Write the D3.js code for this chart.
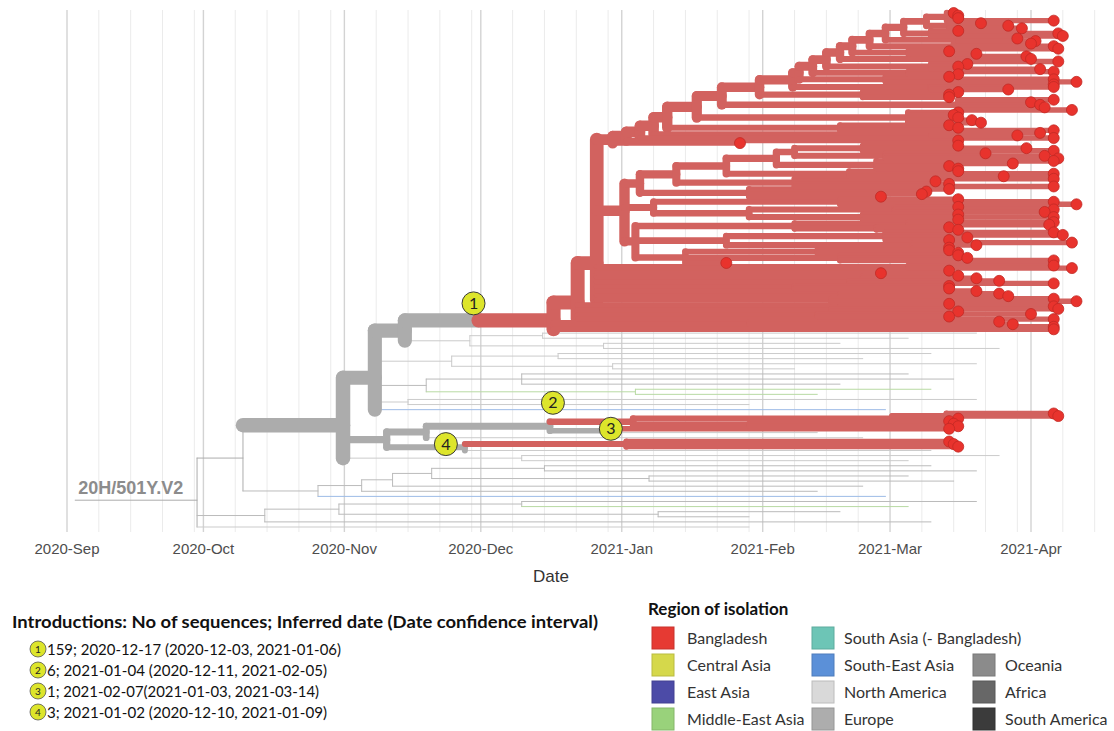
<!DOCTYPE html>
<html><head><meta charset="utf-8">
<script src="https://cdn.jsdelivr.net/npm/d3@7/dist/d3.min.js"></script>
<style>body{margin:0;background:#fff}svg{display:block}</style>
</head><body>
<svg id="chart" width="1114" height="731"></svg>
<script>
// ================= DATA =================
// Node dates are days after 2020-09-01; optional letters = region code; "#k" = introduction k.
const originUTC = Date.UTC(2020, 8, 1);
const axisStart = "2020-09-01", axisEnd = "2021-04-01", gridEnd = "2021-04-15";
const tickLabels = ["2020-Sep","2020-Oct","2020-Nov","2020-Dec","2021-Jan","2021-Feb","2021-Mar","2021-Apr"];
const gridDaysOfMonth = [1, 8, 15, 22, 29];

// --- Introduction 1 clade (Bangladesh) ---
const ladderATop = "(195,196,196,217)193.5";
const ladderASteps = [ // innermost first: [step node date, sister clade]
  [189,"(201,207,210)194"],[184,"(196,218,219)190"],[180,"(209,213)196"],[176.5,"(212,217,218)195"],
  [172.7,"(194,200)185"],[170,"(211,212,218)196"],[167,"(198,196,214)190"],[164,"(217,196)185"],
  [161,"(194,217,222)180"],[159.6,"(217,217,207)190"],[152.3,"(196,194,194)175"],
  [144,"(217,212,214,215,221)196"],[138.5,"(196,195,196,199,201)185"],[132,"(194,196,217)170"],
  [129,"(214,209)190"],[126,"217"],[123,"196"],[120,"148"]
];
const ladderB1Top = "(196,211,217)175";
const ladderB1Steps = [
  [160,"(202,215,218)180"],[156,"(217,208,194,196)178"],[145,"(196,217,206)172"],
  [134,"(217,191,194,217)160"],[126,"(194,189,188,179)150"]
];
const cladeB2 = "((196,217,222)170,((196,217,215)182,(196,217,196)175)150)129";
const cladeB3 = "(((217,216)185,(194,196)178)160,((217,219,198,194)180,(221,200,194)186)145,((194,196)165,(196,198,217)170,145)136)125";
const cladesC3low = ["(217,221)185","194","179","(196,200)175","(205,217)172","(194,194)160","200","(205,207)170","(217,222)168"];
const cladesC2low = ["(194,217)170","(218,196)168","(212,194)165","217"];
const cladesC1low = ["(205,208)150","217","217"];
const nodeDates = {B0:122.6, C3:116.5, C2:112.3, C1:107, I1:90.5, G1:74.3, G2:67.7, G3:60.7, G0:38.7, R0:28.6, root:1.8,
                   P1:70.3, P2:79, P3:106.2};

// --- Introductions 2-4 and global context ---
const cladeI2 = "(((217,218,196)193.4,194)181.5,(195,196)150)124.5b#2";
const cladeP3b = "(194b#3,165n)119.6";
const cladeI4 = "(194,195,196)123b#4";
const cladeP4 = "(" + cladeI4 + ",190n)87.5";
const ctxG1 = "((200,185)104.6,(170,205)118)88.6n";
const ctxG2a = "((190,175)108,(200,160)120)84.6n";
const ctxG2b = "((185,195,170)100,(190,165)125m)79e";
const ctxG2c = "(200,150)75n";
const ctxG2d = "180s";
const ctxP2 = "175n";
const ctxG3 = "(205,185)100n";
const ctxG0b = "(((((190,200)105,(185,195)128)80.2,175)71.6,165)64.8,180s)55.2e";
const ctxR0b = "(((200,185m)100,(170,150)130)59.8,190)43.5e";
const ctxR0 = "150n";
const cladeLabel = "20H/501Y.V2";

// --- Legends ---
const introNumbers = ["1","2","3","4"];
const introTexts = ["159; 2020-12-17 (2020-12-03, 2021-01-06)","6; 2021-01-04 (2020-12-11, 2021-02-05)",
                    "1; 2021-02-07(2021-01-03, 2021-03-14)","3; 2021-01-02 (2020-12-10, 2021-01-09)"];
const introTitle = "Introductions: No of sequences; Inferred date (Date confidence interval)";
const legendTitle = "Region of isolation";
const regionLabels = ["Bangladesh","Central Asia","East Asia","Middle-East Asia","South Asia (- Bangladesh)",
                      "South-East Asia","North America","Europe","Oceania","Africa","South America"];
const regionColors = ["#e63a33","#d5d84b","#4c4ba7","#99d27b","#6dc5b6","#5b90d8","#d9d9d9","#adadad","#8b8b8b","#676767","#3b3b3b"];
const regionCells = [[0,0],[0,1],[0,2],[0,3],[1,0],[1,1],[1,2],[1,3],[2,1],[2,2],[2,3]];
const branchColors = {b:"#d2625f", a:"#acacac", e:"#bbbbbb", n:"#cbcbcb", m:"#b8daa3", s:"#9dbbe6"};

// ================= BUILD TREE =================
function ladder(top, steps){ let s = top; for (const [d, sis] of steps) s = `(${s},${sis})${d}`; return s; }
const cladeA = ladder(ladderATop, ladderASteps);
const cladeB1 = ladder(ladderB1Top, ladderB1Steps);
const D = nodeDates;
const B0 = `(${cladeB1},${cladeB2},${cladeB3})${D.B0}`;
const C3 = `(${[cladeA, B0, ...cladesC3low].join(",")})${D.C3}`;
const C2 = `(${[C3, ...cladesC2low].join(",")})${D.C2}`;
const C1 = `(${[C2, ...cladesC1low].join(",")})${D.C1}b#1`;
const I1 = `(${C1})${D.I1}`;
const G1 = `(${I1},${ctxG1})${D.G1}`;
const G2 = `(${G1},${ctxG2a},${ctxG2b},${ctxG2c},${ctxG2d})${D.G2}`;
const P3 = `(${cladeI2},${cladeP3b})${D.P3}`;
const P2 = `(${P3},${ctxP2})${D.P2}`;
const P1 = `(${P2},${cladeP4})${D.P1}`;
const G3 = `(${G2},${P1},${ctxG3})${D.G3}`;
const G0 = `(${G3},${ctxG0b})${D.G0}`;
const R0 = `(${G0},${ctxR0b},${ctxR0})${D.R0}`;
const treeNewick = `(${R0})${D.root}a`;

function parseNewick(str){
  const s = str.replace(/\s+/g,""); let i = 0;
  function node(){
    const n = {children:[]};
    if (s[i] === "("){ i++; n.children.push(node()); while (s[i] === ","){ i++; n.children.push(node()); } i++; }
    const m = /^([\d.]+)([a-z]*)(?:#(\d+))?/.exec(s.slice(i));
    n.day = +m[1]; n.reg = m[2] || null; n.intro = m[3] || null; i += m[0].length;
    return n;
  }
  return node();
}

// ================= DRAW =================
const svg = d3.select("#chart");
const utc = s => { const [y,m,d] = s.split("-").map(Number); return new Date(Date.UTC(y,m-1,d)); };
const x = d3.scaleUtc().domain([utc(axisStart), utc(axisEnd)]).range([67, 1031]);
const dayToDate = d => new Date(originUTC + d*864e5);

// grid
const gridTop = 10, gridBottom = 532;
const gridDates = [];
d3.utcMonth.range(utc("2020-09-01"), utc("2021-05-01")).forEach(m => {
  gridDaysOfMonth.forEach(dd => {
    const dt = new Date(Date.UTC(m.getUTCFullYear(), m.getUTCMonth(), dd));
    if (dt.getUTCMonth() === m.getUTCMonth() && dt <= utc(gridEnd)) gridDates.push(dt);
  });
});
svg.append("g").selectAll("line").data(gridDates).join("line")
  .attr("x1", d => x(d)).attr("x2", d => x(d)).attr("y1", gridTop).attr("y2", gridBottom)
  .attr("stroke", d => d.getUTCDate() === 1 ? "#d3d3d3" : "#ebebeb")
  .attr("stroke-width", d => d.getUTCDate() === 1 ? 1.4 : 1);

// axis labels
const months = d3.utcMonth.range(utc(axisStart), d3.utcDay.offset(utc(axisEnd),1));
svg.append("g").selectAll("text").data(months).join("text")
  .attr("x", d => x(d)).attr("y", 554).attr("text-anchor","middle")
  .attr("font-family","Liberation Sans, Arial, sans-serif").attr("font-size",15).attr("fill","#4d4d4d")
  .text((d,i) => tickLabels[i]);
svg.append("text").attr("x",551).attr("y",582).attr("text-anchor","middle")
  .attr("font-family","Liberation Sans, Arial, sans-serif").attr("font-size",17).attr("fill","#333").text("Date");

// tree layout
const root = d3.hierarchy(parseNewick(treeNewick), d => d.children.length ? d.children : null);
root.eachBefore(n => { n.reg = n.data.reg || (n.parent ? n.parent.reg : "a"); });
root.eachAfter(n => { n.bd = n.children ? d3.sum(n.children, c => c.bd) : (n.reg === "b" ? 1 : 0); });
let mrca = root;
for (;;) { const c = (mrca.children || []).find(k => k.bd === root.bd); if (!c) break; mrca = c; }
const thickSet = new Set(mrca.descendants());
const wScale = d3.scaleSqrt().domain([1, root.bd]).range([5.4, 14.5]);
const widthOf = n => (thickSet.has(n) && n.bd > 0) ? wScale(n.bd) : 1;

const leaves = root.leaves();
let pos = 0, prevW = null;
leaves.forEach(l => { const w = l.reg === "b" ? 1 : 2; if (prevW !== null) pos += (prevW + w)/2; l.pos = pos; prevW = w; });
const y = d3.scaleLinear().domain([0, pos]).range([13, 527]);
root.eachAfter(n => {
  n.py = n.children ? d3.mean(n.children, c => c.py) : y(n.pos);
  n.px = x(dayToDate(n.data.day));
});

const segs = [];
root.descendants().forEach(n => {
  const w = widthOf(n), c = branchColors[n.reg] || "#ccc", bd = n.reg === "b";
  if (n.parent) segs.push({x1:n.parent.px, x2:n.px, y1:n.py, y2:n.py, w, c, bd});
  if (n.children && n.children.length > 1) {
    const ys = n.children.map(k => k.py);
    segs.push({x1:n.px, x2:n.px, y1:d3.min(ys), y2:d3.max(ys), w, c, bd});
  }
});
segs.sort((a,b) => (a.bd - b.bd) || (a.bd ? b.w - a.w : a.w - b.w));
svg.append("g").attr("stroke-linecap","round").selectAll("line").data(segs).join("line")
  .attr("x1", d => d.x1).attr("x2", d => d.x2).attr("y1", d => d.y1).attr("y2", d => d.y2)
  .attr("stroke", d => d.c).attr("stroke-width", d => d.w);

// tip points (Bangladesh)
svg.append("g").selectAll("circle").data(leaves.filter(l => l.reg === "b")).join("circle")
  .attr("cx", d => d.px).attr("cy", d => d.py).attr("r", 5.5)
  .attr("fill", "#e8332d").attr("stroke", "#c22a25").attr("stroke-width", 0.8);

// clade label on root stem
const r0node = root.children[0];
svg.append("text").attr("x", root.px + 3).attr("y", r0node.py - 6)
  .attr("font-family","Liberation Sans, Arial, sans-serif").attr("font-weight","bold").attr("font-size",18)
  .attr("fill","#8c8c8c").text(cladeLabel);

// introduction markers
const markOffsets = {"1":[-5,-17], "2":[3,-19], "3":[0,0], "4":[-19,0]};
const marks = root.descendants().filter(n => n.data.intro).map(n => {
  const o = markOffsets[n.data.intro];
  return {k:n.data.intro, cx:n.parent.px + o[0], cy:n.py + o[1]};
});
const mg = svg.append("g").selectAll("g").data(marks).join("g").attr("transform", d => `translate(${d.cx},${d.cy})`);
mg.append("circle").attr("r", 11.5).attr("fill","#dde52b").attr("stroke","#3a3a3a").attr("stroke-width",1);
mg.append("text").attr("y", 5.5).attr("text-anchor","middle").attr("font-family","Lato, sans-serif")
  .attr("font-size",16).attr("fill","#222").text(d => d.k);

// ---- Introductions block ----
svg.append("text").attr("x",12).attr("y",628).attr("font-family","Lato, sans-serif").attr("font-weight","bold")
  .attr("font-size",17).attr("fill","#111").attr("textLength",586).attr("lengthAdjust","spacingAndGlyphs").text(introTitle);
const introLens = [294, 280, 272, 280];
const ig = svg.append("g").selectAll("g").data(introTexts).join("g")
  .attr("transform", (d,i) => `translate(0,${649 + i*21})`);
ig.append("circle").attr("cx",38).attr("cy",0).attr("r",8).attr("fill","#dde52b").attr("stroke","#555").attr("stroke-width",0.8);
ig.append("text").attr("x",38).attr("y",3.5).attr("text-anchor","middle").attr("font-family","Lato, sans-serif")
  .attr("font-size",10).attr("fill","#222").text((d,i) => introNumbers[i]);
ig.append("text").attr("x",47).attr("y",5.5).attr("font-family","Lato, sans-serif").attr("font-size",15)
  .attr("fill","#111").attr("textLength",(d,i) => introLens[i]).attr("lengthAdjust","spacingAndGlyphs").text(d => d);

// ---- Region legend ----
svg.append("text").attr("x",648).attr("y",615).attr("font-family","Lato, sans-serif").attr("font-weight","bold")
  .attr("font-size",17).attr("fill","#111").text(legendTitle);
const colX = [652, 812, 973], labelX = [687, 844, 1005];
const lg = svg.append("g").selectAll("g").data(regionLabels).join("g")
  .attr("transform", (d,i) => `translate(0,${638 + regionCells[i][1]*27})`);
lg.append("rect").attr("x",(d,i) => colX[regionCells[i][0]]).attr("y",-11).attr("width",22).attr("height",22)
  .attr("fill",(d,i) => regionColors[i]).attr("stroke",(d,i) => d3.color(regionColors[i]).darker(0.4)).attr("stroke-width",1);
lg.append("text").attr("x",(d,i) => labelX[regionCells[i][0]]).attr("y",5.5).attr("font-family","Lato, sans-serif")
  .attr("font-size",16).attr("fill","#333").text(d => d);
</script>
</body></html>
